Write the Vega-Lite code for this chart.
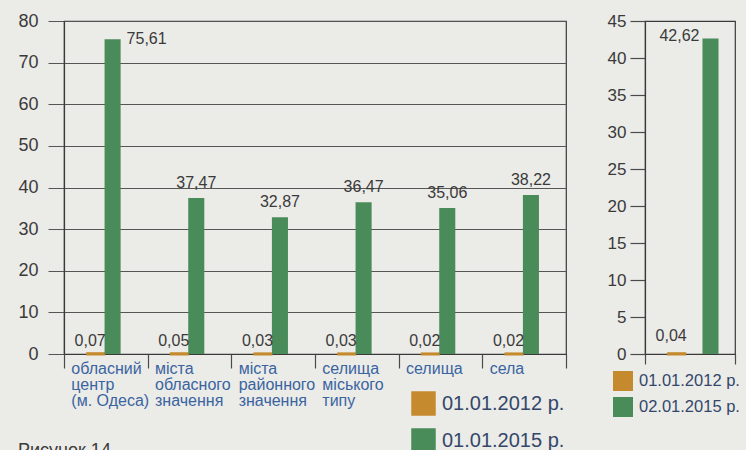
{
  "$schema": "https://vega.github.io/schema/vega-lite/v6.json",
  "background": "#ebebe8",
  "padding": {"left": 17, "top": 11, "right": 5, "bottom": 0},
  "config": {
    "font": "Liberation Sans",
    "view": {"stroke": "#3a3a3a", "strokeWidth": 1.2},
    "axis": {"domainColor": "#3a3a3a", "domainWidth": 1.2, "tickColor": "#4a4a4a", "tickWidth": 1.2, "labelColor": "#3a3a3a", "labelFont": "Liberation Sans"},
    "legend": {"labelFont": "Liberation Sans"}
  },
  "datasets": {
    "main": [
      {"category": "обласний центр (м.\u00a0Одеса)", "series": "01.01.2012 р.", "value": 0.07},
      {"category": "обласний центр (м.\u00a0Одеса)", "series": "01.01.2015 р.", "value": 75.61},
      {"category": "міста обласного значення", "series": "01.01.2012 р.", "value": 0.05},
      {"category": "міста обласного значення", "series": "01.01.2015 р.", "value": 37.47},
      {"category": "міста районного значення", "series": "01.01.2012 р.", "value": 0.03},
      {"category": "міста районного значення", "series": "01.01.2015 р.", "value": 32.87},
      {"category": "селища міського типу", "series": "01.01.2012 р.", "value": 0.03},
      {"category": "селища міського типу", "series": "01.01.2015 р.", "value": 36.47},
      {"category": "селища", "series": "01.01.2012 р.", "value": 0.02},
      {"category": "селища", "series": "01.01.2015 р.", "value": 35.06},
      {"category": "села", "series": "01.01.2012 р.", "value": 0.02},
      {"category": "села", "series": "01.01.2015 р.", "value": 38.22}
    ],
    "total": [
      {"category": "всього", "series": "01.01.2012 р.", "value": 0.04},
      {"category": "всього", "series": "02.01.2015 р.", "value": 42.62}
    ]
  },
  "spacing": 38,
  "resolve": {"scale": {"color": "independent", "x": "independent", "y": "independent"}, "legend": {"color": "independent"}},
  "hconcat": [
    {
      "width": 502,
      "height": 333,
      "title": {"text": "Рисунок 14", "orient": "bottom", "anchor": "start", "offset": -11, "fontSize": 18, "fontWeight": "normal", "color": "#3a3a3a", "font": "Liberation Sans", "baseline": "top"},
      "data": {"name": "main"},
      "encoding": {
        "x": {"field": "category", "type": "nominal", "sort": null,
          "scale": {"paddingInner": 0, "paddingOuter": 0},
          "axis": {"title": null, "labelAngle": 0, "tickBand": "extent", "tickSize": 14, "labelAlign": "left", "labelBaseline": "top", "labelOffset": -35, "labelPadding": -8, "labelFontSize": 16, "labelLineHeight": 16, "labelColor": "#3a64a0", "labelExpr": "split(datum.label, ' ')", "labelOverlap": false, "labelBound": false, "labelFlush": false}},
        "xOffset": {"field": "series", "type": "nominal", "scale": {"paddingInner": 0.05, "paddingOuter": 1.02}},
        "y": {"field": "value", "type": "quantitative",
          "scale": {"domain": [0, 80], "nice": false},
          "axis": {"title": null, "values": [0, 10, 20, 30, 40, 50, 60, 70, 80], "grid": true, "gridColor": "#555555", "gridWidth": 1, "tickSize": 16, "tickColor": "#555555", "tickWidth": 1, "labelFontSize": 18, "labelPadding": 10}}
      },
      "layer": [
        {
          "mark": {"type": "bar", "strokeWidth": 3},
          "encoding": {
            "color": {"field": "series", "type": "nominal",
              "scale": {"domain": ["01.01.2012 р.", "01.01.2015 р."], "range": ["#c68a2e", "#4a8b5a"]},
              "legend": {"title": null, "orient": "none", "legendX": 347, "legendY": 370, "symbolType": "square", "symbolSize": 600, "symbolStrokeWidth": 0, "symbolOpacity": 1, "labelFontSize": 20, "labelColor": "#34476a", "rowPadding": 12, "labelOffset": 6, "padding": 0}},
            "stroke": {"condition": {"test": "datum.series == '01.01.2012 р.'", "value": "#c68a2e"}, "value": null}
          }
        },
        {
          "transform": [{"filter": "datum.series == '01.01.2012 р.'"}],
          "mark": {"type": "text", "align": "right", "baseline": "bottom", "dx": 10, "dy": -5, "fontSize": 16, "color": "#3a3a3a", "text": {"expr": "replace(format(datum.value, '.2f'), '.', ',')"}}
        },
        {
          "transform": [{"filter": "datum.series == '01.01.2015 р.' && datum.value < 70"}],
          "mark": {"type": "text", "align": "center", "baseline": "bottom", "dy": -7, "fontSize": 16, "color": "#3a3a3a", "text": {"expr": "replace(format(datum.value, '.2f'), '.', ',')"}}
        },
        {
          "transform": [{"filter": "datum.value >= 70"}],
          "mark": {"type": "text", "align": "left", "baseline": "middle", "dx": 14, "dy": 0, "fontSize": 16, "color": "#3a3a3a", "text": {"expr": "replace(format(datum.value, '.2f'), '.', ',')"}}
        }
      ]
    },
    {
      "width": 90,
      "height": 333,
      "data": {"name": "total"},
      "encoding": {
        "x": {"field": "category", "type": "nominal",
          "scale": {"paddingInner": 0, "paddingOuter": 0},
          "axis": {"title": null, "labels": false, "tickBand": "extent", "tickSize": 10}},
        "xOffset": {"field": "series", "type": "nominal", "scale": {"paddingInner": 0, "paddingOuter": 1.25, "align": 0.7}},
        "y": {"field": "value", "type": "quantitative",
          "scale": {"domain": [0, 45], "nice": false},
          "axis": {"title": null, "values": [0, 5, 10, 15, 20, 25, 30, 35, 40, 45], "grid": false, "tickSize": 15, "labelFontSize": 17, "labelPadding": 4}}
      },
      "layer": [
        {
          "mark": {"type": "bar", "strokeWidth": 3},
          "encoding": {
            "color": {"field": "series", "type": "nominal",
              "scale": {"domain": ["01.01.2012 р.", "02.01.2015 р."], "range": ["#c68a2e", "#4a8b5a"]},
              "legend": {"title": null, "orient": "none", "legendX": -32, "legendY": 350, "symbolType": "square", "symbolSize": 400, "symbolStrokeWidth": 0, "symbolOpacity": 1, "labelFontSize": 16.5, "labelColor": "#34476a", "rowPadding": 6, "labelOffset": 6, "padding": 0}},
            "stroke": {"condition": {"test": "datum.series == '01.01.2012 р.'", "value": "#c68a2e"}, "value": null}
          }
        },
        {
          "transform": [{"filter": "datum.series == '01.01.2012 р.'"}],
          "mark": {"type": "text", "align": "right", "baseline": "bottom", "dx": 10, "dy": -10, "fontSize": 16, "color": "#3a3a3a", "text": {"expr": "replace(format(datum.value, '.2f'), '.', ',')"}}
        },
        {
          "transform": [{"filter": "datum.series == '02.01.2015 р.'"}],
          "mark": {"type": "text", "align": "right", "baseline": "middle", "dx": -11, "dy": -3, "fontSize": 16, "color": "#3a3a3a", "text": {"expr": "replace(format(datum.value, '.2f'), '.', ',')"}}
        }
      ]
    }
  ]
}
